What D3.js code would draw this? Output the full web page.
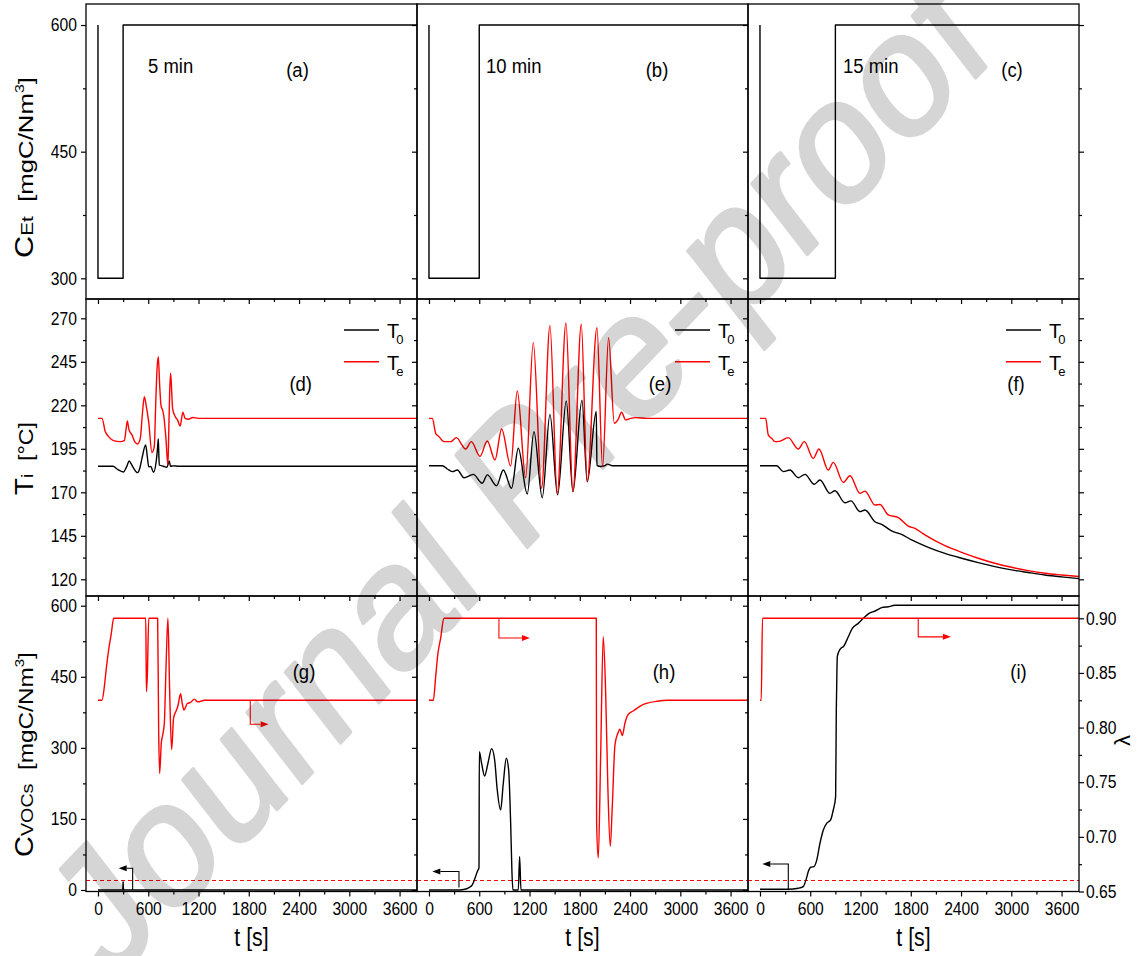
<!DOCTYPE html>
<html lang="en">
<head>
<meta charset="utf-8">
<title>Reactor response to feed concentration pulses</title>
<script src="https://cdn.jsdelivr.net/npm/d3@7/dist/d3.min.js"></script>
<style>
  html, body { margin: 0; padding: 0; background: #fff; }
  svg { display: block; }
</style>
</head>
<body>
<svg id="fig" width="1143" height="956"></svg>
<script>
// ---------- axis ticks ----------
const timeTicks = [0, 600, 1200, 1800, 2400, 3000, 3600];
const timeMinor = [300, 900, 1500, 2100, 2700, 3300];
const feedTicks = [300, 450, 600];
const feedMinor = [375, 525];
const tempTicks = [120, 145, 170, 195, 220, 245, 270];
const tempMinor = [132.5, 157.5, 182.5, 207.5, 232.5, 257.5];
const vocTicks = [0, 150, 300, 450, 600];
const vocMinor = [75, 225, 375, 525];
const lamTicks = [0.65, 0.70, 0.75, 0.80, 0.85, 0.90];
const lamMinor = [0.675, 0.725, 0.775, 0.825, 0.875];

// ---------- labels ----------
const panelTags = [["(a)", "(b)", "(c)"], ["(d)", "(e)", "(f)"], ["(g)", "(h)", "(i)"]];
const pulseLabels = ["5 min", "10 min", "15 min"];
const legendNames = [["T", "0"], ["T", "e"]];

// ---------- inlet ethanol concentration, [t (s), mgC/Nm3] ----------
const feed5min  = [[0, 600], [0, 300], [300, 300], [300, 600], [3808, 600]];
const feed10min = [[0, 600], [0, 300], [600, 300], [600, 600], [3808, 600]];
const feed15min = [[0, 600], [0, 300], [900, 300], [900, 600], [3808, 600]];

// ---------- temperatures, [t (s), °C] ----------
const t0Pulse5 = [[0,185],[180,185],[227,183.4],[306,181.7],[340,184.5],[374,188],[400,186],[426,183.8],[473,181.3],[500,184],[525,189.5],[569,197.2],[590,190],[605,184.7],[630,184.8],[664,181.5],[692,186.7],[712,196],[720,200.7],[726,192],[732,185.7],[780,185],[823,184.4],[851,188],[865,185],[900,185.2],[960,185],[3808,185]];
const tePulse5 = [[0,212.5],[48,212.5],[87,204.9],[127,202],[187,199.7],[266,199.1],[314,199.7],[335,206],[350,211],[370,206],[406,203],[440,199],[473,197.8],[505,201],[530,215],[553,225],[575,220],[605,210.6],[644,192.8],[672,196.2],[690,222],[704,240],[720,248],[736,232],[752,220],[772,217],[785,214],[811,201],[835,185.7],[845,205],[856,228],[867,238.4],[880,228],[891,218],[923,213.5],[950,211.5],[982,208.1],[1000,213],[1014,216],[1040,212.5],[1080,212],[1130,213],[1200,212.5],[3808,212.5]];

const t0Pulse10 = [[0,185.3],[159,185.3],[219,183.4],[278,181.9],[338,182.8],[418,178.4],[529,180.3],[636,175.2],[696,180],[807,173.8],[887,182.8],[986,172.3],[1066,195.3],[1173,169],[1253,204.9],[1352,166.9],[1444,214.8],[1535,168.5],[1639,222.5],[1718,170.4],[1826,222.9],[1889,176.1],[1997,216.4],[2005,185.5],[2049,184.8],[2100,185.3],[2128,186.2],[2188,185.3],[3808,185.3]];
const tePulse10 = [[0,212.5],[40,212.5],[80,203.9],[119,202],[179,199.1],[259,199.1],[326,201.4],[438,194.9],[505,199.1],[609,190.7],[696,199.5],[788,188.6],[867,206.4],[975,185.1],[1054,228.2],[1154,178.4],[1245,256],[1344,172.3],[1444,265.8],[1531,169.4],[1635,267.3],[1718,170.4],[1818,266.6],[1889,176.5],[2005,264.6],[2072,184.7],[2144,258.9],[2212,209.7],[2255,211.6],[2299,216],[2347,211.6],[2407,212.5],[2466,212.9],[2605,212.5],[3808,212.5]];

const t0Pulse15 = [[0,185.3],[199,185.3],[278,181.9],[358,182.8],[457,178.4],[537,180.3],[648,174.6],[716,177.1],[835,169.4],[895,170.9],[1014,164],[1086,165.1],[1193,158.9],[1253,159.8],[1372,153.1],[1452,151.6],[1571,147.8],[1690,145.8],[1810,142.6],[2009,138.4],[2208,134.9],[2407,132.1],[2605,129.6],[2804,127.3],[3003,125.4],[3202,123.9],[3401,122.5],[3600,121.4],[3808,120.4]];
const tePulse15 = [[0,212.5],[68,212.5],[99,203],[139,201],[179,199.1],[230,199.3],[338,201.4],[457,194.9],[529,199.1],[636,189.5],[704,194.9],[815,182.8],[875,187.2],[994,175.7],[1074,179.5],[1193,169.4],[1253,170.7],[1372,162.7],[1432,163],[1531,157],[1651,155.4],[1770,150.6],[1850,149.3],[1969,145.5],[2208,139.3],[2407,135.5],[2605,132.1],[2804,129.2],[3003,126.9],[3202,125],[3401,123.5],[3600,122.5],[3808,121.6]];

// ---------- outlet VOC concentration, [t (s), mgC/Nm3] ----------
const vocPulse5 = [[0,0],[296,0],[300,17],[304,0],[3808,0]];
const vocPulse10 = [[0,0],[358,0],[440,2],[477,5],[517,10.7],[549,24.7],[577,38.8],[597,47.3],[601,292],[628,267.4],[664,240.6],[704,267.4],[748,298.3],[784,274.4],[815,211],[855,169],[887,225.2],[923,278],[951,253.3],[975,140.8],[990,40],[1002,0],[1066,0],[1082,70.5],[1098,0],[3808,0]];
const vocPulse15 = [[0,1.5],[338,1.5],[457,3.6],[517,7.2],[549,21.2],[577,38.8],[605,48],[644,49.4],[676,62],[716,98.6],[756,126.7],[796,140.8],[843,147.8],[875,169],[903,197],[911,380],[915,422],[923,492.4],[955,507.9],[1002,515],[1054,534.6],[1102,552.2],[1173,562.7],[1233,573.3],[1301,583.8],[1372,588.7],[1452,595.8],[1531,597.9],[1611,601],[3808,601]];
const vocLimit = 20;

// ---------- conversion λ, [t (s), -] ----------
const lamPulse5 = [[0,0.825],[48,0.825],[76,0.8375],[99,0.854],[127,0.871],[159,0.886],[187,0.90],[570,0.90],[575,0.86],[579,0.833],[590,0.85],[606,0.90],[712,0.90],[724,0.80],[736,0.758],[756,0.786],[772,0.793],[792,0.804],[812,0.855],[835,0.90],[855,0.835],[879,0.78],[903,0.809],[931,0.815],[955,0.82],[986,0.831],[1006,0.822],[1026,0.816],[1066,0.822],[1106,0.823],[1150,0.826],[1190,0.8235],[1270,0.825],[3808,0.825]];
const lamPulse10 = [[0,0.825],[52,0.825],[80,0.8467],[107,0.868],[139,0.8817],[179,0.90],[1997,0.90],[2001,0.7126],[2021,0.6806],[2049,0.7736],[2080,0.8832],[2108,0.8345],[2136,0.7431],[2164,0.6913],[2188,0.7278],[2220,0.7842],[2255,0.7949],[2279,0.7985],[2307,0.7927],[2339,0.804],[2375,0.8116],[2446,0.8156],[2526,0.8199],[2605,0.8223],[2725,0.8241],[2844,0.825],[3808,0.825]];
const lamPulse15 = [[0,0.825],[15,0.825],[30,0.90],[3808,0.90]];

// arrows: [t on curve, value on curve, value at bend, t at tip]
const vocArrows = [[414, 0, 46, 247], [358, 5, 39, 40], [338, 1.5, 55, 28]];
const lamArrows = [[1818, 0.825, 0.803, 2037], [835, 0.90, 0.882, 1205], [1889, 0.90, 0.883, 2279]];

// ---------- layout ----------
const FONT = '"Liberation Sans", Arial, Helvetica, sans-serif';
const RED = '#ff0000';
const colX = [86, 417, 748], colW = 331;
const rowTop = [4, 299, 596], rowBot = [299, 596, 891.5];
const tDomain = [-143, 3808];
const rowDomains = [[275.5, 624.9], [110.4, 281.1], [-3.2, 620.5]];
const lamDomain = [0.65, 0.9204];

const svg = d3.select('#fig').attr('font-family', FONT);
const defs = svg.append('defs');

const xs = colX.map(x0 => d3.scaleLinear().domain(tDomain).range([x0, x0 + colW]));
const ys = rowDomains.map((d, r) => d3.scaleLinear().domain(d).range([rowBot[r], rowTop[r]]));
const yLam = d3.scaleLinear().domain(lamDomain).range([rowBot[2], rowTop[2]]);

// squeeze a text node horizontally (figure text is slightly condensed)
function squeeze(sel, k) {
  sel.each(function () {
    const n = this.getComputedTextLength();
    if (n > 0) d3.select(this).attr('textLength', n * k).attr('lengthAdjust', 'spacingAndGlyphs');
  });
}

// clip regions
for (let r = 0; r < 3; r++) for (let c = 0; c < 3; c++) {
  defs.append('clipPath').attr('id', `clip-${r}-${c}`).append('rect')
    .attr('x', colX[c]).attr('y', rowTop[r]).attr('width', colW).attr('height', rowBot[r] - rowTop[r]);
}

const series = [
  { r: 0, c: 0, data: feed5min,  y: ys[0], color: '#000', curve: d3.curveLinear },
  { r: 0, c: 1, data: feed10min, y: ys[0], color: '#000', curve: d3.curveLinear },
  { r: 0, c: 2, data: feed15min, y: ys[0], color: '#000', curve: d3.curveLinear },
  { r: 1, c: 0, data: t0Pulse5,  y: ys[1], color: '#000', curve: d3.curveMonotoneX },
  { r: 1, c: 0, data: tePulse5,  y: ys[1], color: RED,    curve: d3.curveMonotoneX },
  { r: 1, c: 1, data: t0Pulse10, y: ys[1], color: '#000', curve: d3.curveMonotoneX },
  { r: 1, c: 1, data: tePulse10, y: ys[1], color: RED,    curve: d3.curveMonotoneX },
  { r: 1, c: 2, data: t0Pulse15, y: ys[1], color: '#000', curve: d3.curveMonotoneX },
  { r: 1, c: 2, data: tePulse15, y: ys[1], color: RED,    curve: d3.curveMonotoneX },
  { r: 2, c: 0, data: vocPulse5,  y: ys[2], color: '#000', curve: d3.curveLinear },
  { r: 2, c: 1, data: vocPulse10, y: ys[2], color: '#000', curve: d3.curveMonotoneX },
  { r: 2, c: 2, data: vocPulse15, y: ys[2], color: '#000', curve: d3.curveMonotoneX },
  { r: 2, c: 0, data: lamPulse5,  y: yLam, color: RED, curve: d3.curveMonotoneX },
  { r: 2, c: 1, data: lamPulse10, y: yLam, color: RED, curve: d3.curveMonotoneX },
  { r: 2, c: 2, data: lamPulse15, y: yLam, color: RED, curve: d3.curveMonotoneX }
];

const plot = svg.append('g');

// emission limit (dashed)
for (let c = 0; c < 3; c++) {
  plot.append('line')
    .attr('x1', xs[c](tDomain[0])).attr('x2', xs[c](tDomain[1]))
    .attr('y1', ys[2](vocLimit)).attr('y2', ys[2](vocLimit))
    .attr('stroke', RED).attr('stroke-width', 1).attr('stroke-dasharray', '4,3');
}

series.forEach(s => {
  const gen = d3.line().x(d => xs[s.c](d[0])).y(d => s.y(d[1])).curve(s.curve);
  plot.append('path').datum(s.data)
    .attr('clip-path', `url(#clip-${s.r}-${s.c})`)
    .attr('d', gen).attr('fill', 'none')
    .attr('stroke', s.color).attr('stroke-width', 1.4).attr('stroke-linejoin', 'round');
});

// axis-assignment arrows
function drawArrow(x, y, a, color, dir) {
  const [t0, v0, v1, t1] = a;
  const xb = x(t0), ya = y(v0), yb = y(v1), xt = x(t1);
  const head = 8;
  plot.append('path')
    .attr('d', `M${xb},${ya}V${yb}H${xt - dir * head}`)
    .attr('fill', 'none').attr('stroke', color).attr('stroke-width', 1.1);
  plot.append('path')
    .attr('d', `M${xt},${yb}L${xt - dir * head},${yb - 3}L${xt - dir * head},${yb + 3}Z`)
    .attr('fill', color);
}
vocArrows.forEach((a, c) => drawArrow(xs[c], ys[2], a, '#000', -1));
lamArrows.forEach((a, c) => drawArrow(xs[c], yLam, a, RED, 1));

// ---------- axes ----------
const rowMajor = [feedTicks, tempTicks, vocTicks];
const rowMinor = [feedMinor, tempMinor, vocMinor];
const axes = svg.append('g');

function styleAxis(g) {
  g.attr('font-family', FONT).attr('font-size', 18);
  g.select('.domain').remove();
  g.selectAll('line').attr('stroke', '#000').attr('stroke-width', 1.2);
  g.selectAll('text').attr('fill', '#000');
  return g;
}

for (let r = 0; r < 3; r++) for (let c = 0; c < 3; c++) {
  const x = xs[c], y = ys[r];
  // left
  const lg = axes.append('g').attr('transform', `translate(${colX[c]},0)`)
    .call(d3.axisLeft(y).tickValues(rowMajor[r]).tickSize(5).tickPadding(4)
      .tickFormat(c === 0 ? d3.format('d') : () => ''));
  styleAxis(lg);
  squeeze(lg.selectAll('text'), 0.87);
  styleAxis(axes.append('g').attr('transform', `translate(${colX[c]},0)`)
    .call(d3.axisLeft(y).tickValues(rowMinor[r]).tickSize(3).tickFormat(() => '')));
  // bottom
  const bg = axes.append('g').attr('transform', `translate(0,${rowBot[r]})`)
    .call(d3.axisBottom(x).tickValues(timeTicks).tickSize(5).tickPadding(6)
      .tickFormat(r === 2 ? d3.format('d') : () => ''));
  styleAxis(bg);
  squeeze(bg.selectAll('text'), 0.87);
  styleAxis(axes.append('g').attr('transform', `translate(0,${rowBot[r]})`)
    .call(d3.axisBottom(x).tickValues(timeMinor).tickSize(3).tickFormat(() => '')));
  // right edge of the last column
  if (c === 2) {
    const yr = r === 2 ? yLam : y;
    const rg = axes.append('g').attr('transform', `translate(${colX[c] + colW},0)`)
      .call(d3.axisRight(yr).tickValues(r === 2 ? lamTicks : rowMajor[r]).tickSize(5).tickPadding(2)
        .tickFormat(r === 2 ? d3.format('.2f') : () => ''));
    styleAxis(rg);
    squeeze(rg.selectAll('text'), 0.87);
    styleAxis(axes.append('g').attr('transform', `translate(${colX[c] + colW},0)`)
      .call(d3.axisRight(yr).tickValues(r === 2 ? lamMinor : rowMinor[r]).tickSize(3).tickFormat(() => '')));
  }
  // frame
  axes.append('rect').attr('x', colX[c]).attr('y', rowTop[r])
    .attr('width', colW).attr('height', rowBot[r] - rowTop[r])
    .attr('fill', 'none').attr('stroke', '#000').attr('stroke-width', 1.3);
}

// ---------- text ----------
const txt = svg.append('g').attr('fill', '#000');

function condensedText(x, y, k, size, anchor, str) {
  const g = txt.append('g').attr('transform', `translate(${x},${y}) scale(${k},1)`);
  return g.append('text').attr('font-size', size).attr('text-anchor', anchor).text(str);
}

// pulse duration and panel tags
const pulseX = [148, 486, 843];
pulseLabels.forEach((s, c) => condensedText(pulseX[c], 72.5, 0.88, 21, 'start', s));
const tagX = [[297.5, 657, 1012], [300.7, 660, 1016], [304, 664, 1018.5]];
const tagY = [77, 391, 679];
panelTags.forEach((row, r) => row.forEach((s, c) => condensedText(tagX[r][c], tagY[r], 0.88, 21, 'middle', s)));

// legends in temperature row
const legendColors = ['#000', RED];
const legendY = [330, 361.7];
for (let c = 0; c < 3; c++) {
  legendNames.forEach((nm, i) => {
    const x0 = colX[c] + 258;
    txt.append('line').attr('x1', x0).attr('x2', x0 + 35)
      .attr('y1', legendY[i]).attr('y2', legendY[i])
      .attr('stroke', legendColors[i]).attr('stroke-width', 1.5);
    const t = txt.append('text').attr('x', x0 + 43).attr('y', legendY[i] + 8).attr('font-size', 20);
    t.append('tspan').text(nm[0]);
    t.append('tspan').attr('font-size', 13).attr('dx', -3).attr('dy', 6).text(nm[1]);
  });
}

// x-axis titles
for (let c = 0; c < 3; c++) {
  condensedText(colX[c] + colW / 2, 946, 0.82, 26, 'middle', 't [s]');
}

// rotated y-axis titles
function rotatedTitle(x, yStart, len, parts) {
  const g = txt.append('g');
  const t = g.append('text').attr('x', 0).attr('y', 0);
  parts.forEach(p => {
    const ts = t.append('tspan').attr('font-size', p.size).text(p.s);
    if (p.dy) ts.attr('dy', p.dy);
  });
  const natural = t.node().getComputedTextLength();
  g.attr('transform', `translate(${x},${yStart}) rotate(-90) scale(${len / natural},1)`);
}
rotatedTitle(33.3, 258, 181, [
  { s: 'C', size: 25 }, { s: 'Et', size: 17 }, { s: '\u00a0\u00a0[mgC/Nm', size: 21 },
  { s: '3', size: 13, dy: -9 }, { s: ']', size: 21, dy: 9 }
]);
rotatedTitle(33.3, 495, 73, [
  { s: 'T', size: 25 }, { s: 'i', size: 17 }, { s: '\u00a0\u00a0[\u00b0C]', size: 21 }
]);
rotatedTitle(33.3, 857, 205, [
  { s: 'C', size: 25 }, { s: 'VOCs', size: 17 }, { s: '\u00a0\u00a0[mgC/Nm', size: 21 },
  { s: '3', size: 13, dy: -9 }, { s: ']', size: 21, dy: 9 }
]);
// conversion axis title
txt.append('text').attr('font-size', 22)
  .attr('transform', 'translate(1130,746) rotate(-90)').text('\u03bb');

// ---------- pre-proof watermark ----------
svg.append('g').attr('opacity', 0.16)
  .append('text')
  .attr('transform', 'translate(522,480) scale(0.86,1) rotate(-42)')
  .attr('text-anchor', 'middle').attr('dy', '0.3em')
  .attr('font-size', 180)
  .attr('fill', '#000').attr('stroke', '#000').attr('stroke-width', 4)
  .attr('stroke-linejoin', 'round')
  .text('Journal Pre-proof');
</script>
</body>
</html>
